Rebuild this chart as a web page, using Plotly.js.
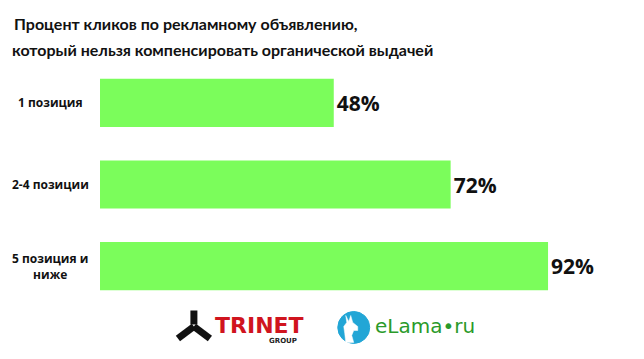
<!DOCTYPE html>
<html><head><meta charset="utf-8">
<script src="https://cdn.plot.ly/plotly-3.0.1.min.js"></script>
<style>html,body{margin:0;padding:0;background:#fff}#chart{width:644px;height:359px}</style>
</head><body><div id="chart"></div>
<script>
var categories = ['1 позиция', '2-4 позиции', '5 позиция и<br>ниже'];
var values = [48, 72, 92];
var valueLabels = ['48%', '72%', '92%'];
var titleLines = ['Процент кликов по рекламному объявлению,', 'который нельзя компенсировать органической выдачей'];

var W = 644, H = 359, L = 100, R = 56.5, T = 62, B = 51.5;
var pw = W - L - R, ph = H - T - B;
function px(x){ return (x - L) / pw; }
function py(y){ return (H - B - y) / ph; }
function pathPx(pts){ return 'M' + pts.map(function(p){ return px(p[0]) + ',' + py(p[1]); }).join(' L') + ' Z'; }
var TF = "Lato, 'Open Sans', sans-serif";

var trace = {
  type: 'bar', orientation: 'h',
  y: categories, x: values,
  marker: {color: '#7bfd5b'},
  text: valueLabels, textposition: 'outside', cliponaxis: false,
  textfont: {family: 'Open Sans', size: 21, color: '#111', weight: 'bold'},
  hoverinfo: 'none'
};

var annotations = [];
categories.forEach(function(c, i){
  annotations.push({xref:'paper', yref:'y', x: px(50), y: c, text: '<b>'+c+'</b>', showarrow:false,
    xanchor:'center', yanchor:'middle', align:'center', font:{family:'Open Sans', size:12, color:'#111'}});
});
annotations.push({xref:'paper', yref:'paper', x: px(12), y: py(23), text: '<b>'+titleLines[0]+'</b>', showarrow:false,
  xanchor:'left', yanchor:'middle', font:{family:TF, size:16, color:'#111'}});
// logos
annotations.push({xref:'paper', yref:'paper', x: px(213), y: py(326), text: '<b>TRINET</b>', showarrow:false,
  xanchor:'left', yanchor:'middle', font:{family:'DejaVu Sans', size:22, color:'#d0141e'}});
annotations.push({xref:'paper', yref:'paper', x: px(267), y: py(342), text: '<b>GROUP</b>', showarrow:false,
  xanchor:'left', yanchor:'middle', font:{family:'DejaVu Sans', size:7, color:'#222'}});
annotations.push({xref:'paper', yref:'paper', x: px(373), y: py(327), text: 'eLama•ru', showarrow:false,
  xanchor:'left', yanchor:'middle', font:{family:'DejaVu Sans', size:20, color:'#2a9a2a'}});

var shapes = [
  {type:'line', xref:'paper', yref:'paper', x0:px(194), y0:py(311), x1:px(194), y1:py(325), line:{color:'#111', width:7}},
  {type:'line', xref:'paper', yref:'paper', x0:px(194), y0:py(327), x1:px(178), y1:py(339), line:{color:'#111', width:7}},
  {type:'line', xref:'paper', yref:'paper', x0:px(194), y0:py(327), x1:px(210), y1:py(339), line:{color:'#111', width:7}},
  {type:'circle', xref:'paper', yref:'paper', x0:px(338), y0:py(312), x1:px(370), y1:py(344), fillcolor:'#22a6d6', line:{color:'#22a6d6', width:1}},
  {type:'path', xref:'paper', yref:'paper', fillcolor:'#ffffff', line:{color:'#ffffff', width:0.5},
    path: pathPx([[346,316],[349,322],[351,316],[353,323],[358,327],[358,331],[354,331],[352,336],[354,343],[346,343],[345,334],[344,327],[347,323]])}
];

var layout = {
  width: W, height: H,
  margin: {l: L, r: R, t: T, b: B, pad: 0},
  paper_bgcolor: '#fff', plot_bgcolor: '#fff',
  showlegend: false,
  bargap: 0.41,
  title: {text: '<b>'+titleLines[1]+'</b>', x: 12/W, xref:'container', xanchor:'left', y: 1 - 50/H, yref:'container', yanchor:'middle',
    font: {family:TF, size:16, color:'#111'}},
  xaxis: {range: [0, 100], visible: false, fixedrange: true},
  yaxis: {autorange: 'reversed', showticklabels: false, showgrid: false, zeroline: false, showline: false, ticks: '', fixedrange: true},
  annotations: annotations,
  shapes: shapes
};
Plotly.newPlot('chart', [trace], layout, {displayModeBar: false, staticPlot: true});
</script></body></html>
